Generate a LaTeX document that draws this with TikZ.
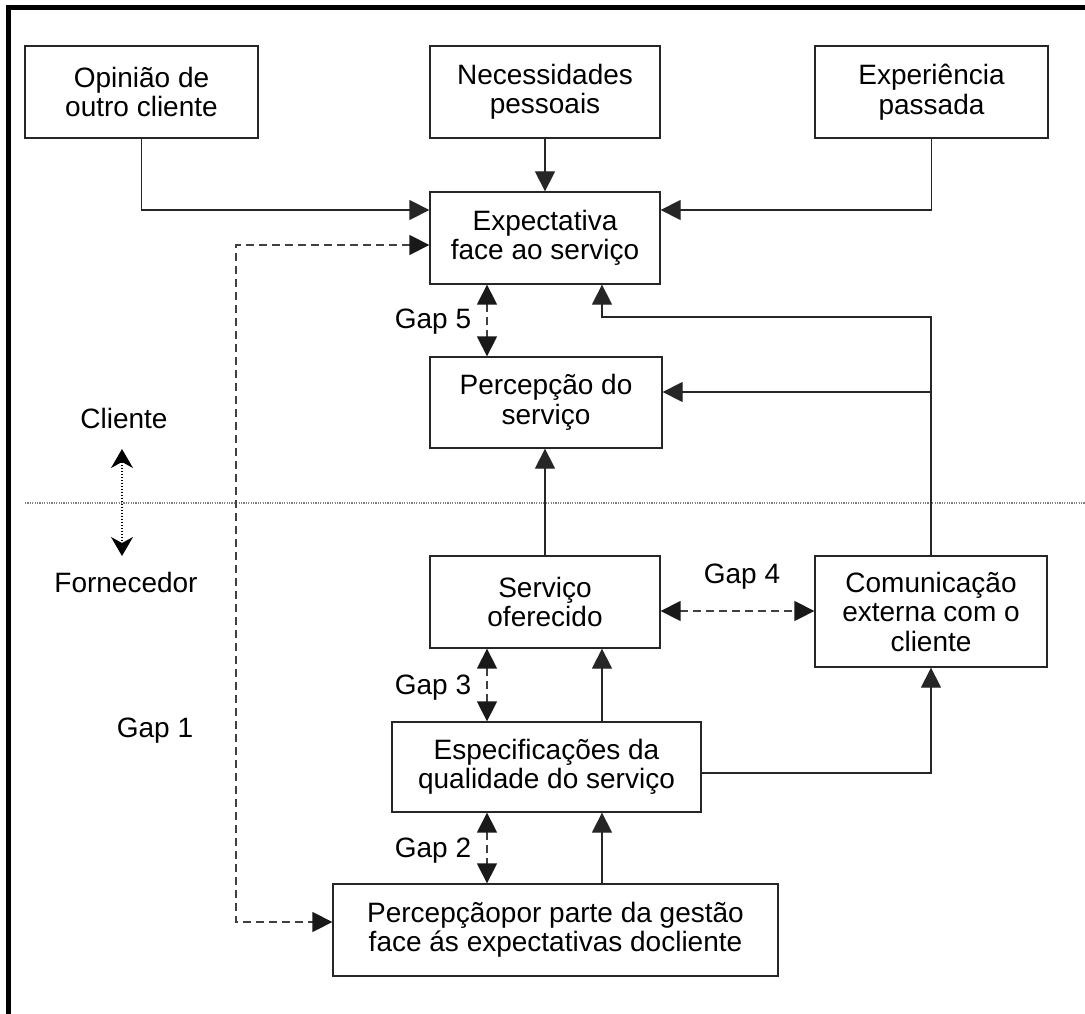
\documentclass[tikz,border=0pt]{standalone}
\usepackage{fontspec}
\setmainfont{Liberation Sans}
\usetikzlibrary{arrows.meta}
\begin{document}
\begin{tikzpicture}[x=1pt,y=-1pt,
  tip/.tip={Triangle[length=20pt,width=20pt]},
  gtip/.tip={Triangle[length=20pt,width=20pt,color=black!90]},
  box/.style={draw=black!85, line width=1.3pt, align=center, inner sep=0pt,
    font=\fontsize{28}{29.5}\selectfont},
  lbl/.style={font=\fontsize{28}{29.5}\selectfont, inner sep=0pt, text height=20pt, text depth=0pt},
  conn/.style={draw=black!85, line width=1.3pt, -tip},
  gap/.style={draw=black!75, line width=1.4pt, dash pattern=on 8pt off 5pt, gtip-gtip},
  side/.style={draw=black, line width=1.2pt, dash pattern=on 1.5pt off 1.5pt,
    {Stealth[length=19pt,width=22pt,inset=6pt]}-{Stealth[length=19pt,width=22pt,inset=6pt]}},
  sep/.style={draw=black!50, line width=1.1pt, dash pattern=on 1.2pt off 1.2pt}]
\useasboundingbox (0,0) rectangle (1085,1014);
\fill[white] (0,0) rectangle (1085,1014);

% outer frame (top and left edges)
\draw[line width=4.5pt] (8.5,1020) -- (8.5,7.5) -- (1090,7.5);

% client / supplier separator
\draw[sep] (25,503) -- (1085,503);

% boxes
\node[box, minimum width=233pt, minimum height=92pt] (op) at (141.5,92) {Opinião de\\outro cliente};
\node[box, minimum width=230pt, minimum height=92pt] (nec) at (545,92) {Necessidades\\pessoais};
\node[box, minimum width=233pt, minimum height=92pt] (exp) at (931.5,92) {Experiência\\passada};
\node[box, minimum width=230pt, minimum height=92pt] (expt) at (545,238) {Expectativa\\face ao serviço};
\node[box, minimum width=232pt, minimum height=91pt] (perc) at (546,402.5) {Percepção do\\serviço};
\node[box, minimum width=230pt, minimum height=92pt] (serv) at (545,602) {Serviço\\oferecido};
\node[box, minimum width=232pt, minimum height=111pt] (com) at (931,611.5) {Comunicação\\externa com o\\cliente};
\node[box, minimum width=309pt, minimum height=90pt] (esp) at (546.5,767) {Especificações da\\qualidade do serviço};
\node[box, minimum width=445pt, minimum height=92pt] (ges) at (555.5,930) {Percepçãopor parte da gestão\\face ás expectativas docliente};

% labels
\node[lbl] (g5) at (433,318) {Gap 5};
\node[lbl] (g4) at (742,573) {Gap 4};
\node[lbl] (g3) at (433,684) {Gap 3};
\node[lbl] (g2) at (433,847) {Gap 2};
\node[lbl] (g1) at (155,727) {Gap 1};
\node[lbl] (cl) at (124,418) {Cliente};
\node[lbl] (fo) at (126,582) {Fornecedor};

% helper coordinates
\coordinate (xg) at (487,0);
\coordinate (xr) at (602,0);
\coordinate (yin) at (0,210);
\coordinate (ydash) at (0,245);
\coordinate (yfb) at (602,317);
\coordinate (yp) at (0,392);
\coordinate (y4) at (0,611);
\coordinate (ys) at (0,773);
\coordinate (g1c) at (236,922);
\coordinate (cu) at (122,449);
\coordinate (cd) at (122,556);

% inputs to the expectation
\draw[conn] (op.south) |- (expt.west |- yin);
\draw[conn] (nec.south) -- (expt.north);
\draw[conn] (exp.south) |- (expt.east |- yin);

% gap 1
\draw[gap] (expt.west |- ydash) -| (g1c) -- (ges.west |- g1c);

% gap 5 and feedback from communication
\draw[gap] (expt.south -| xg) -- (perc.north -| xg);
\draw[conn] (com.north) |- (yfb) -- (expt.south -| yfb);
\draw[conn] (com.north |- yp) -- (perc.east |- yp);
\draw[conn] (serv.north) -- (serv.north |- perc.south);

% gap 4
\draw[gap] (serv.east |- y4) -- (com.west |- y4);

% gap 3
\draw[gap] (serv.south -| xg) -- (esp.north -| xg);
\draw[conn] (esp.north -| xr) -- (serv.south -| xr);
\draw[conn] (esp.east |- ys) -| (com.south);

% gap 2
\draw[gap] (esp.south -| xg) -- (ges.north -| xg);
\draw[conn] (ges.north -| xr) -- (esp.south -| xr);

% client / supplier arrow
\draw[side] (cu) -- (cd);
\end{tikzpicture}
\end{document}
